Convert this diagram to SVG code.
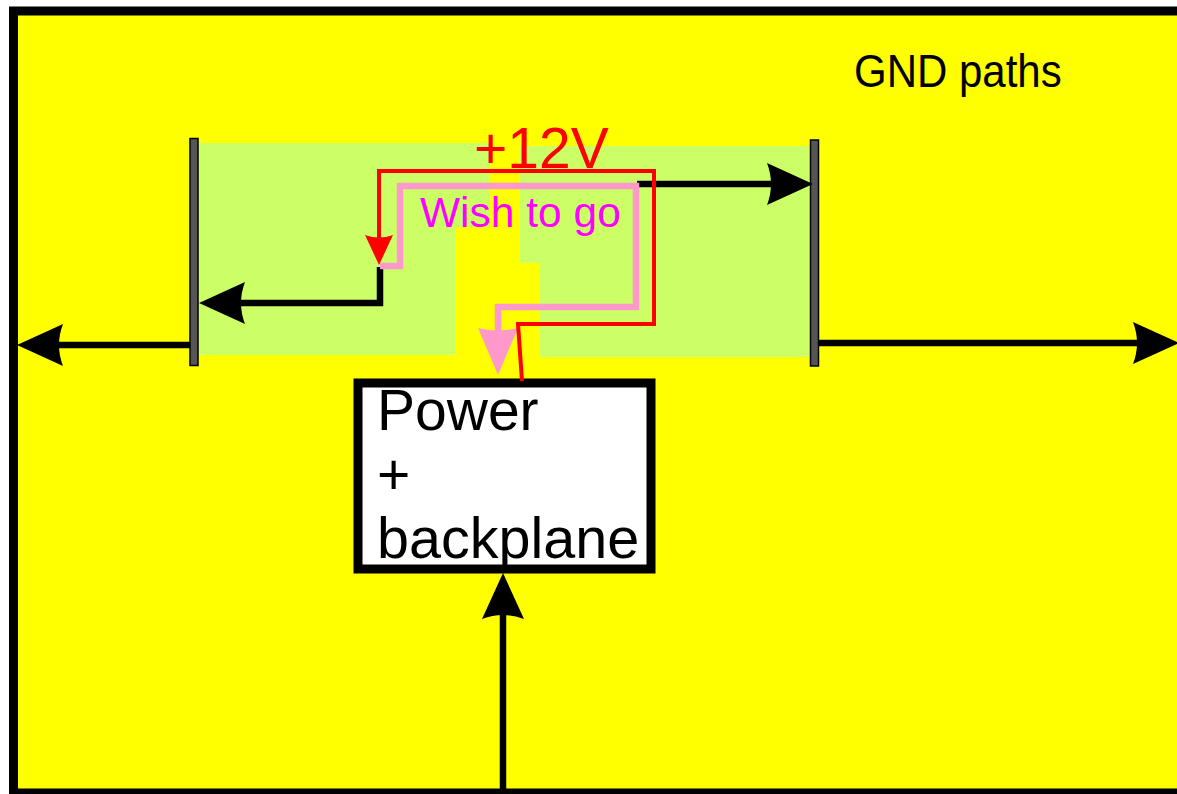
<svg xmlns="http://www.w3.org/2000/svg" width="1177" height="794" viewBox="0 0 1177 794">
  <style>
    .lbl { font-family: "Liberation Sans", Arial, sans-serif; }
    .green { fill: #ccff66; stroke: none; }
    .bar { fill: #555555; stroke: #000000; stroke-width: 1.5; }
    .blk { fill: none; stroke: #000000; stroke-width: 6.5; }
    .pink { fill: none; stroke: #ff99cc; stroke-width: 6.5; }
    .red { fill: none; stroke: #ff0000; stroke-width: 4; }
  </style>
  <defs>
    <marker id="ahBlack" viewBox="0 -22 48 44" markerUnits="userSpaceOnUse" markerWidth="48" markerHeight="44" refX="6" refY="0" orient="auto">
      <path d="M46,0 L0,-21 Q8,0 0,21 Z" fill="#000000"/>
    </marker>
    <marker id="ahPink" viewBox="0 -22 50 44" markerUnits="userSpaceOnUse" markerWidth="50" markerHeight="44" refX="4" refY="0" orient="auto">
      <path d="M47,0 L0,-20 Q5,0 0,20 Z" fill="#ff99cc"/>
    </marker>
    <marker id="ahRed" viewBox="0 -16 32 32" markerUnits="userSpaceOnUse" markerWidth="32" markerHeight="32" refX="4" refY="0" orient="auto">
      <path d="M30,0 L0,-14 Q5,0 0,14 Z" fill="#ff0000"/>
    </marker>
  </defs>

  <g id="frame">
    <rect x="13.5" y="11" width="1200" height="782" fill="#ffff00" stroke="#000000" stroke-width="9"/>
  </g>

  <g id="zone-left">
    <rect class="green" x="193" y="143" width="262" height="212"/>
    <rect class="green" x="454" y="143" width="36" height="84"/>
  </g>
  <g id="zone-right">
    <rect class="green" x="540" y="146" width="272" height="211"/>
    <rect class="green" x="520" y="146" width="21" height="117"/>
  </g>

  <g id="bar-left">
    <rect class="bar" x="190" y="138.5" width="8" height="227"/>
  </g>
  <g id="bar-right">
    <rect class="bar" x="810.5" y="140" width="8" height="226"/>
  </g>

  <g id="power-backplane">
    <rect x="358" y="383" width="293" height="186" fill="#ffffff" stroke="#000000" stroke-width="9"/>
    <text class="lbl" x="377" y="430" font-size="57" fill="#000000">Power</text>
    <text class="lbl" x="377" y="494" font-size="57" fill="#000000">+</text>
    <text class="lbl" x="377" y="558" font-size="57.5" fill="#000000">backplane</text>
  </g>

  <g id="gnd-label">
    <text class="lbl" transform="translate(854,87) scale(1,1.12)" x="0" y="0" font-size="42" fill="#000000">GND paths</text>
  </g>

  <g id="connectors">
    <line class="blk" x1="190" y1="345" x2="57" y2="345" marker-end="url(#ahBlack)"/>
    <line class="blk" x1="818" y1="343" x2="1139" y2="343" marker-end="url(#ahBlack)"/>
    <line class="blk" x1="637" y1="184" x2="773" y2="184" marker-end="url(#ahBlack)"/>
    <polyline class="blk" points="380,267 380,303 239,303" marker-end="url(#ahBlack)"/>
    <line class="blk" x1="503" y1="794" x2="503" y2="613" marker-end="url(#ahBlack)"/>
    <polyline class="pink" points="380,266 400,266 400,186 636,186 636,307 498,307 498,332" marker-end="url(#ahPink)"/>
    <polyline class="red" points="522,381 518,324 654,324 654,171 379,171 379,239" marker-end="url(#ahRed)"/>
  </g>

  <g id="labels">
    <text class="lbl" x="474" y="168" font-size="57" fill="#ff0000">+12V</text>
    <text class="lbl" x="420" y="227" font-size="42.5" fill="#ff00ff">Wish to go</text>
  </g>
</svg>
